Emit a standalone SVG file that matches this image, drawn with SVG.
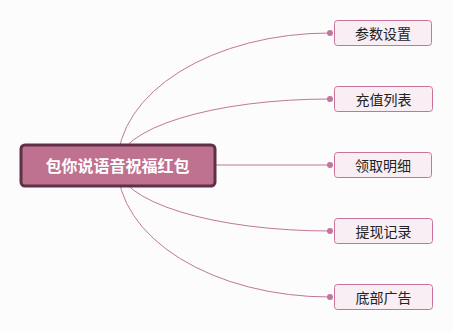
<svg xmlns="http://www.w3.org/2000/svg" width="453" height="331" viewBox="0 0 453 331">
<defs>
<style>
.bg{fill:#fcfcfc}
.conn{fill:none;stroke:#c0779b;stroke-width:1}
.dot{fill:#c0779b}
.root rect{fill:#bf7190;stroke:#5f3047;stroke-width:3}
.root text{fill:#ffffff;font-family:"Noto Sans CJK SC","Liberation Sans",sans-serif;font-size:16px;font-weight:bold;text-anchor:middle;dominant-baseline:central}
.child rect{fill:#f8eef3;stroke:#c9739b;stroke-width:1}
.child text{fill:#222222;font-family:"Noto Sans CJK SC","Liberation Sans",sans-serif;font-size:14px;text-anchor:middle;dominant-baseline:central}
</style>
</defs>
<rect class="bg" x="0" y="0" width="453" height="331"/>
<g id="connectors">
<path class="conn" d="M117.5,165 A212.5,132 0 0 1 330,33"/>
<path class="conn" d="M117.5,165 A212.5,66 0 0 1 330,99"/>
<path class="conn" d="M117.5,165 L330,165"/>
<path class="conn" d="M117.5,165 A212.5,66 0 0 0 330,231"/>
<path class="conn" d="M117.5,165 A212.5,132 0 0 0 330,297"/>
<circle class="dot" cx="330" cy="33" r="3"/>
<circle class="dot" cx="330" cy="99" r="3"/>
<circle class="dot" cx="330" cy="165" r="3"/>
<circle class="dot" cx="330" cy="231" r="3"/>
<circle class="dot" cx="330" cy="297" r="3"/>
</g>
<g id="root" class="root">
<rect x="21" y="145" width="194" height="41" rx="4"/>
<text x="117.5" y="164.5">包你说语音祝福红包</text>
</g>
<g id="n1" class="child">
<rect x="334.5" y="20.5" width="97" height="25" rx="3"/>
<text x="383" y="33">参数设置</text>
</g>
<g id="n2" class="child">
<rect x="334.5" y="86.5" width="98" height="25" rx="3"/>
<text x="383.5" y="99">充值列表</text>
</g>
<g id="n3" class="child">
<rect x="334.5" y="152.5" width="97" height="25" rx="3"/>
<text x="383" y="165">领取明细</text>
</g>
<g id="n4" class="child">
<rect x="334.5" y="218.5" width="98" height="25" rx="3"/>
<text x="383.5" y="231">提现记录</text>
</g>
<g id="n5" class="child">
<rect x="334.5" y="284.5" width="98" height="25" rx="3"/>
<text x="383.5" y="297">底部广告</text>
</g>
</svg>
